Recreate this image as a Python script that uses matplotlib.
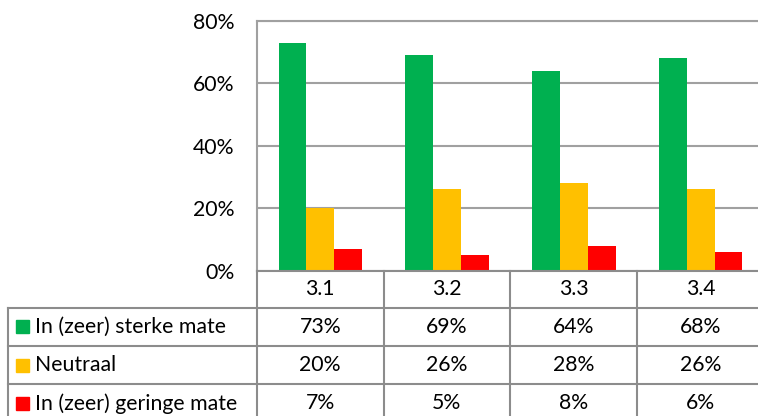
import matplotlib.pyplot as plt
from matplotlib.ticker import PercentFormatter

plt.rcParams['font.family'] = ['Lato', 'DejaVu Sans']

categories = ['3.1', '3.2', '3.3', '3.4']
series_names = ['In (zeer) sterke mate', 'Neutraal', 'In (zeer) geringe mate']
sterk = [0.73, 0.69, 0.64, 0.68]
neutraal = [0.20, 0.26, 0.28, 0.26]
gering = [0.07, 0.05, 0.08, 0.06]
colors = ['#00B050', '#FFC000', '#FF0000']

W, H = 758, 416
fig = plt.figure(figsize=(W / 100, H / 100), dpi=100)

# plot area in pixel coords
x0, x1 = 257, 764
y_top, y_zero = 20.7, 270.7
ax = fig.add_axes([x0 / W, 1 - y_zero / H, (x1 - x0) / W, (y_zero - y_top) / H])

grid_col = '#a0a0a0'
line_col = '#8c8c8c'
bw = 0.22
x = range(len(categories))
for i, (vals, col) in enumerate(zip([sterk, neutraal, gering], colors)):
    ax.bar([k + (i - 1) * bw for k in x], vals, width=bw, color=col, zorder=3)

fs = 15.3
ax.set_xlim(-0.5, 3.5)
ax.set_ylim(0, 0.8)
ax.set_yticks([0, 0.2, 0.4, 0.6, 0.8])
ax.yaxis.set_major_formatter(PercentFormatter(1.0, decimals=0))
ax.set_xticks([])
ax.tick_params(axis='y', length=0, pad=16, labelsize=fs)
ax.grid(axis='y', color=grid_col, linewidth=1.5, zorder=0)
for s in ['right', 'bottom']:
    ax.spines[s].set_visible(False)
for s in ['top', 'left']:
    ax.spines[s].set_color(grid_col)
    ax.spines[s].set_linewidth(1.5)

# data table drawn underneath in pixel coordinates
tab = fig.add_axes([0, 0, 1, 1], zorder=5)
tab.set_xlim(0, W)
tab.set_ylim(H, 0)
tab.axis('off')
tab.patch.set_alpha(0)

cols = [257, 383.5, 510, 637, 764]
rows = [270.7, 307.7, 346, 384.3, 422.6]
left = 7.5
lw = 1.5
tab.plot([cols[0], cols[-1]], [rows[0], rows[0]], color=line_col, lw=lw)
for r in rows[1:]:
    tab.plot([left, cols[-1]], [r, r], color=line_col, lw=lw)
for c in cols:
    tab.plot([c, c], [rows[0], rows[-1]], color=line_col, lw=lw)
tab.plot([left, left], [rows[1], rows[-1]], color=line_col, lw=lw)

for j, cat in enumerate(categories):
    cx = (cols[j] + cols[j + 1]) / 2
    tab.text(cx, (rows[0] + rows[1]) / 2, cat, ha='center', va='center', fontsize=fs)
    for i, vals in enumerate([sterk, neutraal, gering]):
        cy = (rows[i + 1] + rows[i + 2]) / 2
        tab.text(cx, cy, f'{round(vals[j] * 100)}%', ha='center', va='center', fontsize=fs)

for i, (name, col) in enumerate(zip(series_names, colors)):
    cy = (rows[i + 1] + rows[i + 2]) / 2
    tab.add_patch(plt.Rectangle((16, cy - 6.5), 13, 13, color=col))
    tab.text(35, cy, name, ha='left', va='center', fontsize=fs)

fig.savefig('out.png', dpi=100)
